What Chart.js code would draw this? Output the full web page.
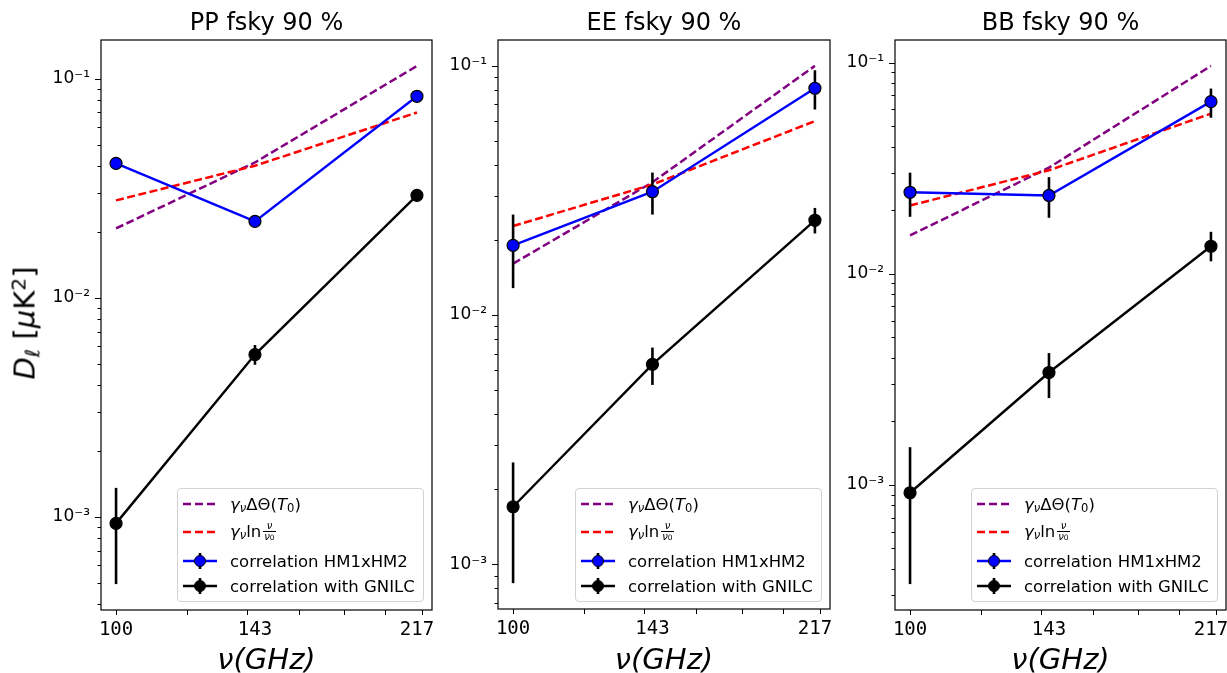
<!DOCTYPE html>
<html>
<head>
<meta charset="utf-8">
<script src="https://cdn.jsdelivr.net/npm/chart.js@4"></script>
<style>
html, body { margin: 0; padding: 0; background: #fff; overflow: hidden; width: 1227px; height: 673px; }
#figura { position: relative; width: 1227px; height: 673px; font-family: "DejaVu Sans", sans-serif; color: #000; overflow: hidden; }
canvas { position: absolute; top: 0; }
.titulo { position: absolute; top: 10px; font-size: 24px; line-height: 1; white-space: nowrap; transform: translateX(-50%); }
.rotuloX { position: absolute; top: 645px; font-size: 29px; line-height: 1; font-style: italic; white-space: nowrap; transform: translateX(-50%); }
.rotuloY { position: absolute; left: 25px; top: 323px; font-size: 29px; line-height: 1; white-space: nowrap; transform: translate(-50%, -50%) rotate(-90deg); }
.sub { font-size: 0.7em; position: relative; top: 0.25em; }
.sup { font-size: 0.7em; position: relative; top: -0.45em; }
.legenda { position: absolute; box-sizing: border-box; width: 247px; height: 114px; top: 488px; border: 1px solid #d2d2d2; border-radius: 4px; background: rgba(255,255,255,0.8); font-size: 16.5px; }
.linha { position: absolute; left: 4px; height: 20px; display: flex; align-items: center; white-space: nowrap; }
.linha svg { width: 36px; height: 20px; margin-right: 12px; }
.frac { display: inline-flex; flex-direction: column; align-items: center; font-size: 10px; font-style: italic; line-height: 1; vertical-align: middle; margin-left: 2px; position: relative; top: -1px; }
.frac .den { border-top: 1px solid #000; padding: 0 1px; }
</style>
</head>
<body>
<div id="figura"></div>
<script>
// frequencias (GHz)
const frequencias = [100, 143, 217];
const rotulosX = [100, 143, 217];
const marcasX = [100, 120, 140, 160, 180, 200, 220];

// PP
const ppDeltaTheta = [0.0207, 0.0414, 0.1142];
const ppLn = [0.0278, 0.0400, 0.0700];
const ppHM = [0.0410, 0.0223, 0.0830];
const ppHMBaixo = [0.0410, 0.0223, 0.0830];
const ppHMAlto = [0.0410, 0.0223, 0.0830];
const ppGnilc = [0.000933, 0.0055, 0.0293];
const ppGnilcBaixo = [0.000493, 0.00494, 0.0290];
const ppGnilcAlto = [0.001355, 0.00608, 0.0297];

// EE
const eeDeltaTheta = [0.01607, 0.0341, 0.100];
const eeLn = [0.02275, 0.0334, 0.060];
const eeHM = [0.01902, 0.03125, 0.0813];
const eeHMBaixo = [0.01282, 0.0253, 0.0668];
const eeHMAlto = [0.0253, 0.0373, 0.0960];
const eeGnilc = [0.00170, 0.00634, 0.0240];
const eeGnilcBaixo = [0.000839, 0.00524, 0.02125];
const eeGnilcAlto = [0.00256, 0.0074, 0.0269];

// BB
const bbDeltaTheta = [0.01517, 0.0318, 0.0964];
const bbLn = [0.02104, 0.0309, 0.0573];
const bbHM = [0.0243, 0.02347, 0.0653];
const bbHMBaixo = [0.0186, 0.0184, 0.0548];
const bbHMAlto = [0.0301, 0.02866, 0.0753];
const bbGnilc = [0.000918, 0.003405, 0.01349];
const bbGnilcBaixo = [0.000339, 0.002576, 0.01145];
const bbGnilcAlto = [0.001508, 0.00421, 0.01579];

const paineis = [
    { titulo: 'PP fsky 90 %', delta: ppDeltaTheta, ln: ppLn, hm: ppHM, hmBaixo: ppHMBaixo, hmAlto: ppHMAlto,
      gn: ppGnilc, gnBaixo: ppGnilcBaixo, gnAlto: ppGnilcAlto, esq: 101, dir: 432, topo: 40, base: 610 },
    { titulo: 'EE fsky 90 %', delta: eeDeltaTheta, ln: eeLn, hm: eeHM, hmBaixo: eeHMBaixo, hmAlto: eeHMAlto,
      gn: eeGnilc, gnBaixo: eeGnilcBaixo, gnAlto: eeGnilcAlto, esq: 498, dir: 830, topo: 40, base: 609 },
    { titulo: 'BB fsky 90 %', delta: bbDeltaTheta, ln: bbLn, hm: bbHM, hmBaixo: bbHMBaixo, hmAlto: bbHMAlto,
      gn: bbGnilc, gnBaixo: bbGnilcBaixo, gnAlto: bbGnilcAlto, esq: 895, dir: 1226, topo: 40, base: 610 },
];

const figura = document.getElementById('figura');
const larguraEixoY = 60;
const folgaDireita = 8;

function pontos(valores) {
    return frequencias.map((f, i) => ({ x: f, y: valores[i] }));
}

// limites no estilo do matplotlib: 5% de margem em escala log
function limitesLog(valores) {
    const lmin = Math.log10(Math.min(...valores));
    const lmax = Math.log10(Math.max(...valores));
    const m = (lmax - lmin) * 0.05;
    return [Math.pow(10, lmin - m), Math.pow(10, lmax + m)];
}

function ehPotencia(v) {
    const l = Math.log10(v);
    return Math.abs(l - Math.round(l)) < 1e-9;
}

const sobrescritos = { '-': '⁻', '0': '⁰', '1': '¹', '2': '²', '3': '³', '4': '⁴', '5': '⁵', '6': '⁶', '7': '⁷', '8': '⁸', '9': '⁹' };
function rotuloPotencia(v) {
    const e = String(Math.round(Math.log10(v)));
    return '10' + e.split('').map(c => sobrescritos[c]).join('');
}

function marcasLog(min, max) {
    const lista = [];
    for (let k = Math.floor(Math.log10(min)); k <= Math.ceil(Math.log10(max)); k++) {
        for (let m = 1; m <= 9; m++) {
            const v = Number((m * Math.pow(10, k)).toPrecision(6));
            if (v >= min && v <= max) lista.push(v);
        }
    }
    return lista;
}

const barrasErro = {
    id: 'barrasErro',
    beforeDatasetDraw(chart, args) {
        const ds = chart.data.datasets[args.index];
        if (!ds.erroBaixo) return;
        const ctx = chart.ctx;
        const sx = chart.scales.x, sy = chart.scales.y;
        ctx.save();
        ctx.strokeStyle = '#000';
        ctx.lineWidth = 2.6;
        ds.data.forEach((p, i) => {
            if (ds.erroBaixo[i] === ds.erroAlto[i]) return;
            const px = sx.getPixelForValue(p.x);
            ctx.beginPath();
            ctx.moveTo(px, sy.getPixelForValue(ds.erroBaixo[i]));
            ctx.lineTo(px, sy.getPixelForValue(ds.erroAlto[i]));
            ctx.stroke();
        });
        ctx.restore();
    }
};

const moldura = {
    id: 'moldura',
    afterDraw(chart) {
        const ctx = chart.ctx;
        const a = chart.chartArea;
        const sx = chart.scales.x, sy = chart.scales.y;
        ctx.save();
        ctx.strokeStyle = '#000';
        ctx.lineWidth = 1.2;
        ctx.strokeRect(a.left, a.top, a.right - a.left, a.bottom - a.top);
        ctx.lineWidth = 1;
        ctx.beginPath();
        marcasX.forEach(v => {
            const px = Math.round(sx.getPixelForValue(v)) + 0.5;
            ctx.moveTo(px, a.bottom);
            ctx.lineTo(px, a.bottom + 5);
        });
        sy.ticks.forEach(t => {
            const py = Math.round(sy.getPixelForValue(t.value)) + 0.5;
            const comp = ehPotencia(t.value) ? 6 : 3.5;
            ctx.moveTo(a.left, py);
            ctx.lineTo(a.left - comp, py);
        });
        ctx.stroke();
        ctx.restore();
    }
};

Chart.defaults.font.family = '"DejaVu Sans", sans-serif';
Chart.defaults.color = '#000';

function simboloTracejado(cor) {
    return `<svg viewBox="0 0 36 20"><line x1="1" y1="10" x2="35" y2="10" stroke="${cor}" stroke-width="2.5" stroke-dasharray="8 4"/></svg>`;
}
function simboloErro(cor) {
    return `<svg viewBox="0 0 36 20"><line x1="1" y1="10" x2="35" y2="10" stroke="${cor}" stroke-width="2.5"/>` +
        `<line x1="18" y1="2" x2="18" y2="18" stroke="#000" stroke-width="2.6"/>` +
        `<circle cx="18" cy="10" r="5.5" fill="${cor}" stroke="#000" stroke-width="1"/></svg>`;
}

paineis.forEach((p, n) => {
    const largura = larguraEixoY + (p.dir - p.esq) + folgaDireita;
    const canvas = document.createElement('canvas');
    canvas.width = largura;
    canvas.height = 673;
    canvas.style.width = largura + 'px';
    canvas.style.height = '673px';
    canvas.style.left = (p.esq - larguraEixoY) + 'px';
    figura.appendChild(canvas);

    const [xMin, xMax] = limitesLog(frequencias);
    const [yMin, yMax] = limitesLog([...p.delta, ...p.ln, ...p.hmBaixo, ...p.hmAlto, ...p.gnBaixo, ...p.gnAlto]);
    const listaY = marcasLog(yMin, yMax);

    new Chart(canvas.getContext('2d'), {
        type: 'line',
        data: {
            datasets: [
                { label: 'delta', data: pontos(p.delta), borderColor: '#800080', borderWidth: 2.5, borderDash: [8, 3.5],
                  pointRadius: 0, fill: false, order: 4 },
                { label: 'ln', data: pontos(p.ln), borderColor: '#ff0000', borderWidth: 2.5, borderDash: [8, 3.5],
                  pointRadius: 0, fill: false, order: 3 },
                { label: 'correlation HM1xHM2', data: pontos(p.hm), borderColor: '#0000ff', borderWidth: 2.4,
                  pointRadius: 6, pointBackgroundColor: '#0000ff', pointBorderColor: '#000', pointBorderWidth: 1.2,
                  erroBaixo: p.hmBaixo, erroAlto: p.hmAlto, fill: false, order: 2 },
                { label: 'correlation with GNILC', data: pontos(p.gn), borderColor: '#000', borderWidth: 2.4,
                  pointRadius: 6, pointBackgroundColor: '#000', pointBorderColor: '#000', pointBorderWidth: 1.2,
                  erroBaixo: p.gnBaixo, erroAlto: p.gnAlto, fill: false, order: 1 },
            ],
        },
        options: {
            responsive: false,
            animation: false,
            devicePixelRatio: 1,
            layout: { padding: { left: 0, right: folgaDireita, top: p.topo, bottom: 0 } },
            plugins: { legend: { display: false }, tooltip: { enabled: false }, title: { display: false } },
            scales: {
                x: {
                    type: 'logarithmic',
                    min: xMin,
                    max: xMax,
                    grid: { display: false, drawTicks: false },
                    border: { display: false },
                    ticks: {
                        autoSkip: false, maxRotation: 0, padding: 9,
                        font: { family: '"DejaVu Sans Mono", monospace', size: 19 },
                        callback: v => String(v),
                    },
                    afterBuildTicks: s => { s.ticks = rotulosX.map(v => ({ value: v })); },
                    afterFit: s => { s.height = 673 - p.base; s.paddingLeft = 0; s.paddingRight = 0; },
                },
                y: {
                    type: 'logarithmic',
                    min: yMin,
                    max: yMax,
                    grid: { display: false, drawTicks: false },
                    border: { display: false },
                    ticks: {
                        autoSkip: false, padding: 11,
                        font: { size: 17 },
                        callback: v => ehPotencia(v) ? rotuloPotencia(v) : '',
                    },
                    afterBuildTicks: s => { s.ticks = listaY.map(v => ({ value: v })); },
                    afterFit: s => { s.width = larguraEixoY; s.paddingTop = 0; s.paddingBottom = 0; },
                },
            },
        },
        plugins: [barrasErro, moldura],
    });

    const centro = (p.esq + p.dir) / 2;
    const titulo = document.createElement('div');
    titulo.className = 'titulo';
    titulo.style.left = centro + 'px';
    titulo.textContent = p.titulo;
    figura.appendChild(titulo);

    const rotuloX = document.createElement('div');
    rotuloX.className = 'rotuloX';
    rotuloX.style.left = centro + 'px';
    rotuloX.textContent = 'ν(GHz)';
    figura.appendChild(rotuloX);

    const legenda = document.createElement('div');
    legenda.className = 'legenda';
    legenda.style.left = (p.dir - 8 - 247) + 'px';
    legenda.innerHTML = `
        <div class="linha" style="top:5px">${simboloTracejado('#800080')}<span><i>γ</i><span class="sub"><i>ν</i></span>ΔΘ(<i>T</i><span class="sub">0</span>)</span></div>
        <div class="linha" style="top:33px">${simboloTracejado('#ff0000')}<span><i>γ</i><span class="sub"><i>ν</i></span>ln<span class="frac"><span>ν</span><span class="den">ν<span style="font-style:normal;font-size:0.75em">0</span></span></span></span></div>
        <div class="linha" style="top:62px">${simboloErro('#0000ff')}<span>correlation HM1xHM2</span></div>
        <div class="linha" style="top:87px">${simboloErro('#000000')}<span>correlation with GNILC</span></div>`;
    figura.appendChild(legenda);
});

const rotuloY = document.createElement('div');
rotuloY.className = 'rotuloY';
rotuloY.innerHTML = '<i>D</i><span class="sub"><i>ℓ</i></span> [<i>μ</i>K<span class="sup">2</span>]';
figura.appendChild(rotuloY);
</script>
</body>
</html>
